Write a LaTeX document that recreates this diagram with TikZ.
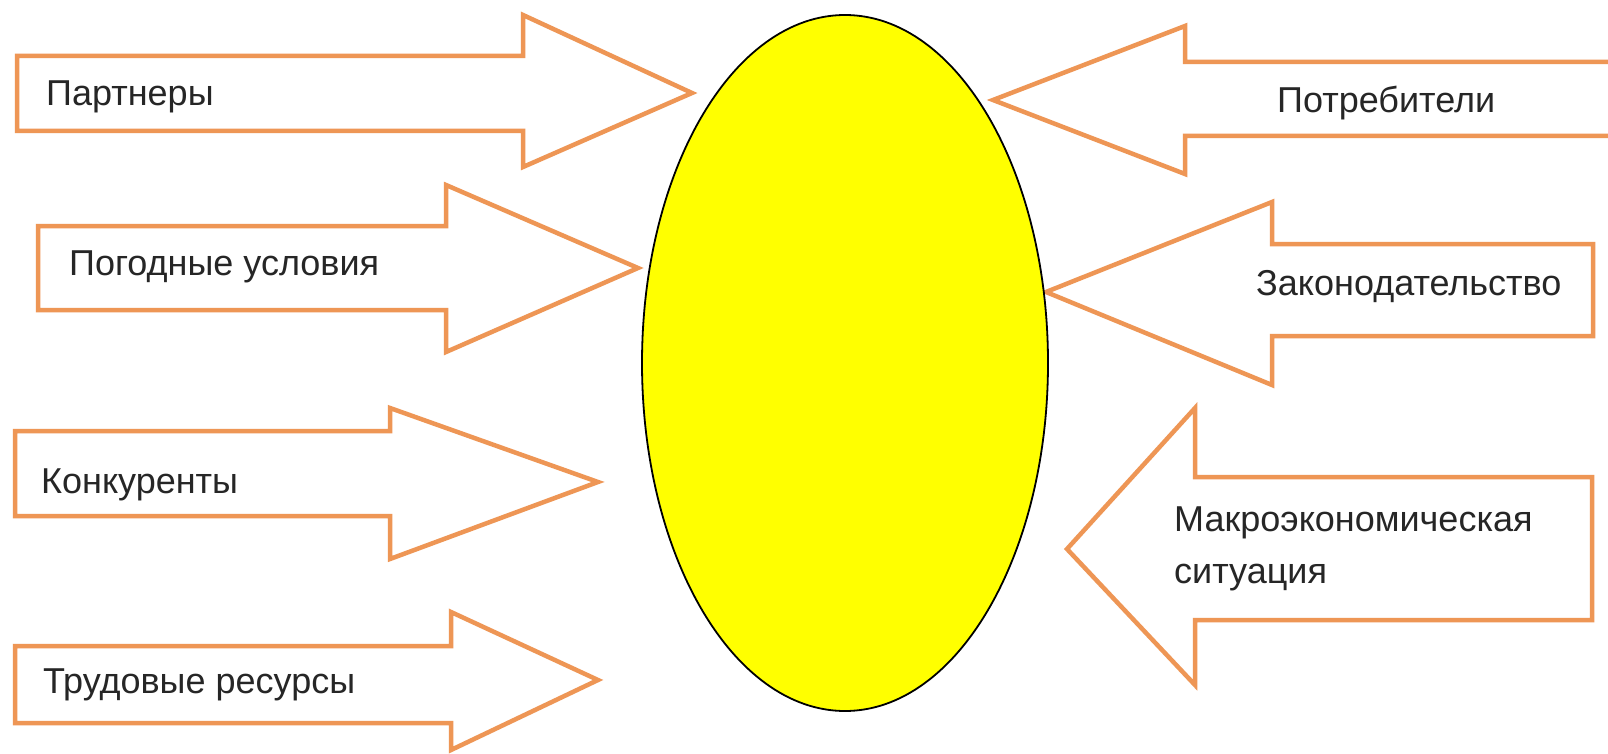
\documentclass[tikz,border=0pt]{standalone}
\usepackage{fontspec}
\setmainfont{Liberation Sans}
\usetikzlibrary{shapes.geometric}
\definecolor{arroworange}{RGB}{238,150,85}
\definecolor{ovalyellow}{RGB}{255,255,0}
\begin{document}
\begin{tikzpicture}[x=1pt,y=-1pt,
  bigarrow/.style={draw=arroworange,line width=4.5pt,fill=white,line join=miter},
  lbl/.style={anchor=west,inner sep=0pt,font=\fontsize{36}{42}\selectfont,text=black!85}]
\useasboundingbox (0,0) rectangle (1608,754);
\fill[white] (0,0) rectangle (1608,754);
\clip (0,0) rectangle (1608,754);
% left arrows
\draw[bigarrow] (17,56) -- (523,56) -- (523,15) -- (692,93) -- (523,167) -- (523,131) -- (17,131) -- cycle;
\draw[bigarrow] (38,226) -- (446,226) -- (446,185) -- (638,268) -- (446,352) -- (446,310) -- (38,310) -- cycle;
\draw[bigarrow] (15,431) -- (390,431) -- (390,408) -- (598,482) -- (390,559) -- (390,516) -- (15,516) -- cycle;
\draw[bigarrow] (15,646) -- (451,646) -- (451,612) -- (598,680) -- (451,750) -- (451,723) -- (15,723) -- cycle;
% right arrows
\draw[bigarrow] (1620,62) -- (1185,62) -- (1185,26) -- (993,100) -- (1185,174) -- (1185,136) -- (1620,136);
\draw[bigarrow] (1593,244) -- (1272,244) -- (1272,202) -- (1046,292) -- (1272,385) -- (1272,336) -- (1593,336) -- cycle;
\draw[bigarrow] (1592,477) -- (1195,477) -- (1195,408) -- (1067,549) -- (1195,685) -- (1195,620) -- (1592,620) -- cycle;
% oval
\node[ellipse,draw=black,line width=1.8pt,fill=ovalyellow,minimum width=406pt,minimum height=696pt,inner sep=0pt] (core) at (845,363) {};
% labels
\node[lbl] (partners) at (46,97) {Партнеры};
\node[lbl] (weather) at (69,267) {Погодные условия};
\node[lbl] (competitors) at (41,485) {Конкуренты};
\node[lbl] (labour) at (43,685) {Трудовые ресурсы};
\node[lbl] (consumers) at (1277,103) {Потребители};
\node[lbl] (law) at (1256,287) {Законодательство};
\node[lbl,align=left] (macro) at (1174,549) {Макроэкономическая\\[10pt]ситуация};
\end{tikzpicture}
\end{document}
